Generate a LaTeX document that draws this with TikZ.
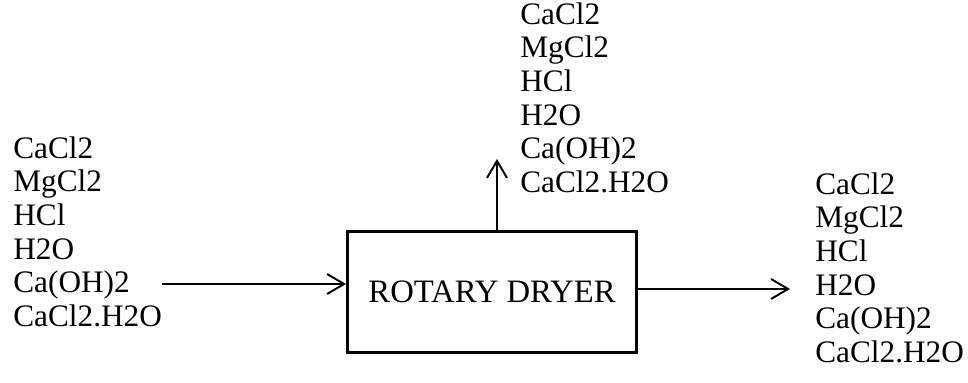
\documentclass[tikz,border=0pt]{standalone}
\usepackage{fontspec}
\setmainfont{Liberation Serif}
\usetikzlibrary{arrows.meta, positioning}
\tikzset{
    unit/.style={rectangle, minimum width=5.78cm, minimum height=2.42cm, align=center, draw=black, line width=1.7pt, font=\fontsize{18.6}{21}\selectfont},
    stream/.style={align=left, inner sep=0pt, anchor=south west, font=\fontsize{17.8}{19.1}\selectfont},
    arrow/.style={line width=1.1pt, -{Straight Barb[length=3.4mm, width=4mm]}}
}
\begin{document}
\begin{tikzpicture}
    \useasboundingbox (0,0) rectangle (19.36,7.66);
    \node (dryer) [unit] at (9.84,1.82) {ROTARY DRYER};
    \coordinate (feed) at (3.24,1.98);
    \coordinate (vapour) at (9.94,4.48);
    \coordinate (product) at (15.8,1.88);

    \node (feedlist) [stream] at (0.26,1.12) {CaCl2\\MgCl2\\HCl\\H2O\\Ca(OH)2\\CaCl2.H2O};
    \node (vapourlist) [stream] at (10.4,3.8) {CaCl2\\MgCl2\\HCl\\H2O\\Ca(OH)2\\CaCl2.H2O};
    \node (productlist) [stream] at (16.3,0.4) {CaCl2\\MgCl2\\HCl\\H2O\\Ca(OH)2\\CaCl2.H2O};

    \draw [arrow] (feed) -- (feed -| dryer.west);
    \draw [arrow] (dryer.north -| vapour) -- (vapour);
    \draw [arrow] (product -| dryer.east) -- (product);
\end{tikzpicture}
\end{document}
